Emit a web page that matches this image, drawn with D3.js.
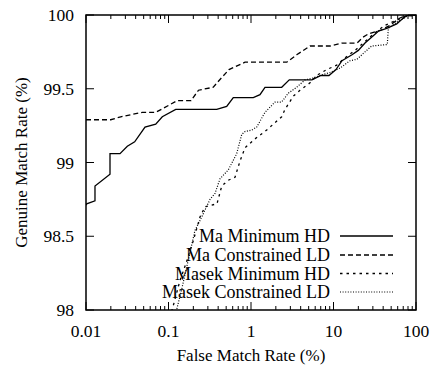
<!DOCTYPE html>
<html><head><meta charset="utf-8">
<script src="https://cdn.jsdelivr.net/npm/d3@7"></script>
<style>body{margin:0;background:#fff}svg{display:block}</style>
</head><body>
<svg id="c" width="435" height="366" font-family="'Liberation Serif', 'Times New Roman', Times, 'DejaVu Serif', serif"></svg>
<script>
const xTicks = [0.01, 0.1, 1, 10, 100];
const xTickLabels = ["0.01", "0.1", "1", "10", "100"];
const yTicks = [98, 98.5, 99, 99.5, 100];
const yTickLabels = ["98", "98.5", "99", "99.5", "100"];
const seriesNames = ["Ma Minimum HD", "Ma Constrained LD", "Masek Minimum HD", "Masek Constrained LD"];

const maMinX = [0.01, 0.0102, 0.01285, 0.01285, 0.01954, 0.01954, 0.02583, 0.0317, 0.0389, 0.0519, 0.070, 0.0841, 0.1223, 0.384, 0.5075, 0.610, 1.066, 1.285, 1.478, 2.355, 2.912, 5.48, 7.05, 8.81, 10.72, 12.68, 16.76, 19.98, 24.09, 30.37, 34.9, 44.2, 58.4, 70.2, 80.7, 100];
const maMinY = [98.71, 98.72, 98.74, 98.84, 98.92, 99.06, 99.06, 99.11, 99.14, 99.24, 99.26, 99.31, 99.36, 99.36, 99.38, 99.44, 99.44, 99.46, 99.51, 99.51, 99.56, 99.56, 99.59, 99.59, 99.63, 99.69, 99.73, 99.76, 99.81, 99.86, 99.89, 99.91, 99.94, 99.98, 100, 100];

const maConX = [0.01, 0.01993, 0.02636, 0.0481, 0.070, 0.0882, 0.1279, 0.1875, 0.231, 0.349, 0.387, 0.541, 0.846, 2.708, 3.58, 5.19, 9.08, 12.68, 19.28, 22.8, 26.2, 38.4, 48.4, 64.0, 77.8, 100];
const maConY = [99.29, 99.29, 99.31, 99.34, 99.34, 99.37, 99.42, 99.42, 99.49, 99.51, 99.54, 99.63, 99.68, 99.68, 99.73, 99.79, 99.79, 99.81, 99.81, 99.85, 99.87, 99.90, 99.93, 99.98, 100, 100];

const masekMinX = [0.109, 0.1143, 0.1378, 0.1662, 0.1998, 0.2408, 0.2770, 0.387, 0.4416, 0.531, 0.640, 0.736, 0.846, 1.118, 1.549, 1.954, 2.355, 2.583, 3.26, 3.93, 5.19, 6.26, 8.28, 10.94, 13.78, 18.22, 24.1, 31.8, 42.1, 55.6, 73.6, 100];
const masekMinY = [97.99, 98.03, 98.20, 98.33, 98.47, 98.63, 98.70, 98.72, 98.84, 98.88, 98.90, 99.01, 99.10, 99.16, 99.22, 99.27, 99.31, 99.36, 99.45, 99.49, 99.54, 99.59, 99.63, 99.66, 99.71, 99.76, 99.82, 99.88, 99.93, 99.96, 99.99, 100];

const masekConX = [0.124, 0.1445, 0.1738, 0.191, 0.2094, 0.2526, 0.3187, 0.3664, 0.421, 0.531, 0.671, 0.772, 0.846, 1.02, 1.172, 1.478, 1.954, 2.355, 2.833, 3.58, 4.51, 5.44, 6.86, 9.08, 12.0, 15.85, 19.28, 24.1, 29.0, 44.9, 46.2, 58.4, 77.1, 100];
const masekConY = [97.99, 98.14, 98.34, 98.44, 98.54, 98.63, 98.75, 98.79, 98.89, 98.95, 99.06, 99.19, 99.21, 99.22, 99.24, 99.34, 99.41, 99.41, 99.47, 99.51, 99.56, 99.57, 99.59, 99.61, 99.64, 99.69, 99.70, 99.75, 99.79, 99.80, 99.91, 99.95, 99.99, 100];

const L = 86, R = 416, T = 15, B = 310;
const svg = d3.select("#c");
const x = d3.scaleLog().domain([0.01, 100]).range([L, R]);
const y = d3.scaleLinear().domain([98, 100]).range([B, T]);

svg.append("defs").append("clipPath").attr("id", "clip")
  .append("rect").attr("x", L).attr("y", T).attr("width", R - L).attr("height", B - T);

const styles = [
  {dash: null, w: 1.3},
  {dash: "5,3", w: 1.3},
  {dash: "2.5,4", w: 1.3},
  {dash: "1,1.6", w: 1.2}
];
const data = [[maMinX, maMinY], [maConX, maConY], [masekMinX, masekMinY], [masekConX, masekConY]];
const line = d3.line().x(d => x(d[0])).y(d => y(d[1]));

const g = svg.append("g").attr("clip-path", "url(#clip)");
data.forEach((s, i) => {
  const pts = s[0].map((v, j) => [v, s[1][j]]);
  g.append("path").attr("d", line(pts)).attr("fill", "none")
    .attr("stroke", "#000").attr("stroke-width", styles[i].w)
    .attr("stroke-dasharray", styles[i].dash);
});

// ticks
const minor = [];
for (let e = -2; e < 2; e++) for (let k = 2; k <= 9; k++) minor.push(k * Math.pow(10, e));
const tk = svg.append("g").attr("stroke", "#000").attr("stroke-width", 1);
xTicks.forEach(v => {
  tk.append("line").attr("x1", x(v)).attr("x2", x(v)).attr("y1", B).attr("y2", B - 8);
  tk.append("line").attr("x1", x(v)).attr("x2", x(v)).attr("y1", T).attr("y2", T + 8);
});
minor.forEach(v => {
  tk.append("line").attr("x1", x(v)).attr("x2", x(v)).attr("y1", B).attr("y2", B - 4);
  tk.append("line").attr("x1", x(v)).attr("x2", x(v)).attr("y1", T).attr("y2", T + 4);
});
yTicks.forEach(v => {
  tk.append("line").attr("x1", L).attr("x2", L + 8).attr("y1", y(v)).attr("y2", y(v));
  tk.append("line").attr("x1", R).attr("x2", R - 8).attr("y1", y(v)).attr("y2", y(v));
});

svg.append("rect").attr("x", L).attr("y", T).attr("width", R - L).attr("height", B - T)
  .attr("fill", "none").attr("stroke", "#000").attr("stroke-width", 1.5);

// tick labels
xTicks.forEach((v, i) => {
  svg.append("text").attr("x", x(v)).attr("y", 337).attr("text-anchor", "middle")
    .attr("font-size", 17.5).text(xTickLabels[i]);
});
yTicks.forEach((v, i) => {
  svg.append("text").attr("x", 74).attr("y", y(v)).attr("dy", "0.35em").attr("text-anchor", "end")
    .attr("font-size", 17.5).text(yTickLabels[i]);
});

// axis titles
svg.append("text").attr("x", (L + R) / 2).attr("y", 361).attr("text-anchor", "middle")
  .attr("font-size", 17).text("False Match Rate (%)");
svg.append("text").attr("transform", `translate(27,${(T + B) / 2}) rotate(-90)`)
  .attr("text-anchor", "middle").attr("font-size", 17).text("Genuine Match Rate (%)");

// legend
const legY = [236, 255, 273.5, 292];
seriesNames.forEach((n, i) => {
  svg.append("text").attr("x", 330).attr("y", legY[i]).attr("dy", "0.35em")
    .attr("text-anchor", "end").attr("font-size", 18).text(n);
  svg.append("line").attr("x1", 340).attr("x2", 393).attr("y1", legY[i]).attr("y2", legY[i])
    .attr("stroke", "#000").attr("stroke-width", styles[i].w)
    .attr("stroke-dasharray", styles[i].dash);
});
</script>
</body></html>
